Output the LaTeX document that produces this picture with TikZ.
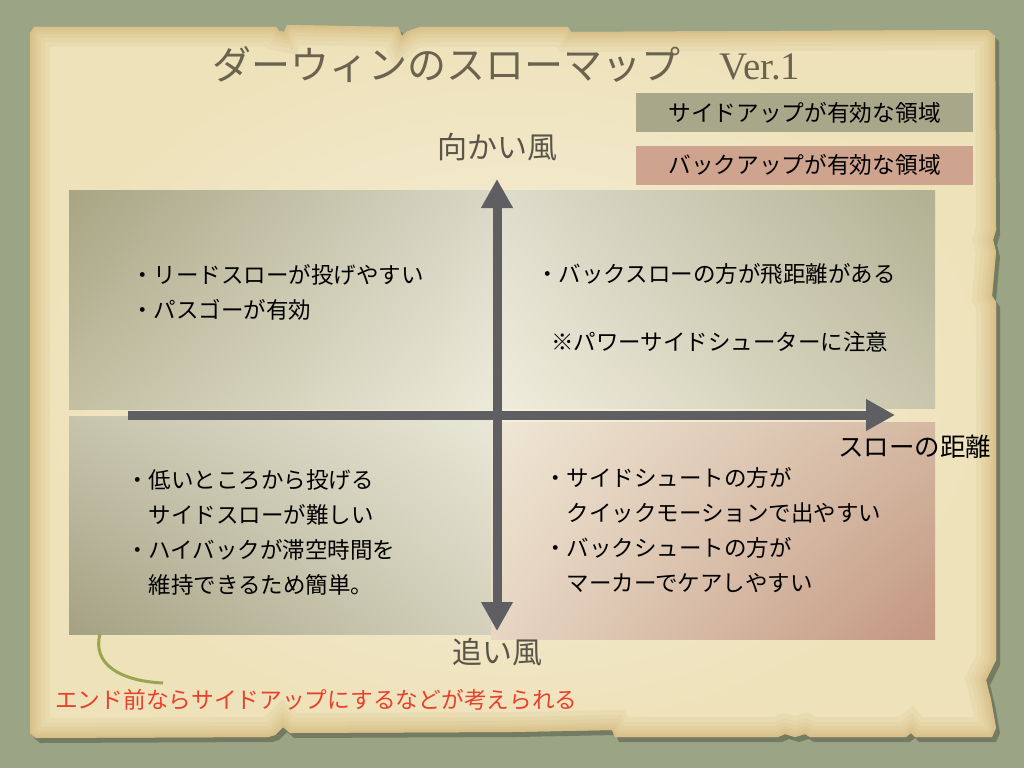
\documentclass[tikz,border=0pt]{standalone}
\usepackage{fontspec}
\newfontfamily\jpfont{Noto Sans CJK JP}
\newfontfamily\verfont{Liberation Serif}
\usetikzlibrary{arrows.meta,positioning,shadings}
\definecolor{bggreen}{HTML}{9BA585}
\definecolor{papercenter}{HTML}{F6F0DC}
\definecolor{paperouter}{HTML}{EEE2BA}
\definecolor{paperedge}{HTML}{CDAE6C}
\definecolor{titlegray}{HTML}{6A6350}
\definecolor{labelgray}{HTML}{5A554A}
\definecolor{axisgray}{HTML}{5F5E63}
\definecolor{sideolive}{HTML}{A9A78A}
\definecolor{backpink}{HTML}{CFA48E}
\definecolor{notered}{HTML}{E8402C}
\definecolor{curvegreen}{HTML}{9AA550}
\definecolor{tlA}{HTML}{A8A584}\definecolor{tlB}{HTML}{D9D8C6}
\definecolor{tlC}{HTML}{C2BFA3}\definecolor{tlD}{HTML}{EDEADA}
\definecolor{trA}{HTML}{DEDDCC}\definecolor{trB}{HTML}{B2B092}
\definecolor{trC}{HTML}{F0ECDC}\definecolor{trD}{HTML}{C8C6AC}
\definecolor{blA}{HTML}{C6C4AC}\definecolor{blB}{HTML}{E9E7D6}
\definecolor{blC}{HTML}{A4A183}\definecolor{blD}{HTML}{D3D1BB}
\definecolor{brA}{HTML}{EFE7D5}\definecolor{brB}{HTML}{D4B8A2}
\definecolor{brC}{HTML}{E6D6C2}\definecolor{brD}{HTML}{C39680}
\newcommand{\paperedgepath}{(30,33) -- (34,27) -- (276,27) -- (279,31) -- (284,32) -- (287,25)
  -- (398,27) -- (402,36) -- (408,31) -- (420,27) -- (568,27) -- (571,32) -- (988,30) -- (995,36)
  -- (996,230) -- (993,240) -- (996,252) -- (992,296) -- (996,302) -- (996,660) -- (986,680)
  -- (991,700) -- (996,728) -- (992,737) -- (915,737) -- (911,733) -- (906,737) -- (810,737)
  -- (805,734) -- (795,737) -- (785,734) -- (778,737) -- (615,737) -- (612,730) -- (512,732)
  -- (290,733) -- (283,727) -- (275,735) -- (268,737) -- (36,738) -- (30,733) -- cycle}
\begin{document}
\begin{tikzpicture}[x=1pt, y=-1pt,
    bodytext/.style={anchor=west, align=left, inner sep=0pt, text=black,
      font=\jpfont\fontsize{22.5}{35}\selectfont},
    windlabel/.style={inner sep=0pt, text=labelgray, font=\jpfont\fontsize{30}{36}\selectfont},
    legendbox/.style={minimum width=337pt, minimum height=39pt, inner sep=0pt, text=black,
      font=\jpfont\fontsize{22.7}{27}\selectfont},
    axisline/.style={draw=axisgray, line width=9pt},
    bigtip/.style={-{Triangle[length=29pt, width=30pt]}},
    burn/.style={draw=paperedge, draw opacity=0.12, line width=#1},
  ]
  \useasboundingbox (0,0) rectangle (1024,768);
  \fill[bggreen] (0,0) rectangle (1024,768);
  \fill[black, opacity=0.25, shift={(4,5)}] \paperedgepath;
  \shade[inner color=papercenter, outer color=paperouter] \paperedgepath;
  \begin{scope}
    \clip \paperedgepath;
    \foreach \w in {40,30,22,15,10,6,3}
      \path[burn=\w pt] \paperedgepath;
  \end{scope}

  \shade[upper left=tlA, upper right=tlB, lower left=tlC, lower right=tlD] (69,190) rectangle (497,409);
  \shade[upper left=trA, upper right=trB, lower left=trC, lower right=trD] (497,190) rectangle (935,408);
  \shade[upper left=blA, upper right=blB, lower left=blC, lower right=blD] (69,416) rectangle (491,634);
  \shade[upper left=brA, upper right=brB, lower left=brC, lower right=brD] (491,422) rectangle (935,639);

  \node[anchor=west, inner sep=0pt, text=titlegray, font=\jpfont\fontsize{39}{44}\selectfont]
    (title) at (212,65) {ダーウィンのスローマップ　{\verfont Ver.1}};
  \node[legendbox, fill=sideolive] (sideup) at (804.5,112.5) {サイドアップが有効な領域};
  \node[legendbox, fill=backpink] (backup) at (804.5,165) {バックアップが有効な領域};

  \coordinate (ytop) at (497,179);
  \coordinate (ybot) at (497,631);
  \coordinate (xleft) at (128,415);
  \coordinate (xright) at (895,415);
  \draw[axisline, bigtip] (xleft) -- (xright);
  \draw[axisline, {Triangle[length=29pt, width=30pt]}-{Triangle[length=29pt, width=30pt]}]
    (ybot) -- (ytop);

  \node[windlabel] (headwind) at (497,147) {向かい風};
  \node[windlabel] (tailwind) at (497,652) {追い風};
  \node[anchor=west, inner sep=0pt, text=black, font=\jpfont\fontsize{25.5}{30}\selectfont]
    (distance) at (838,447) {スローの距離};

  \node[bodytext] (tlnote) at (131,292.5) {・リードスローが投げやすい\\・パスゴーが有効};
  \node[bodytext] (trfar) at (536,274) {・バックスローの方が飛距離がある};
  \node[bodytext] (trnote) at (551,342) {※パワーサイドシューターに注意};
  \node[bodytext] (blnote) at (126,532.5)
    {・低いところから投げる\\　サイドスローが難しい\\・ハイバックが滞空時間を\\　維持できるため簡単。};
  \node[bodytext] (brnote) at (544,530.5)
    {・サイドシュートの方が\\　クイックモーションで出やすい\\・バックシュートの方が\\　マーカーでケアしやすい};

  \coordinate (curvetop) at (100,634);
  \coordinate (curveend) at (163,683);
  \draw[curvegreen, line width=3pt] (curvetop) .. controls (92,664) and (120,681) .. (curveend);
  \node[anchor=west, inner sep=0pt, text=notered, font=\jpfont\fontsize{22.7}{27}\selectfont]
    (endnote) at (55,700) {エンド前ならサイドアップにするなどが考えられる};
\end{tikzpicture}
\end{document}
